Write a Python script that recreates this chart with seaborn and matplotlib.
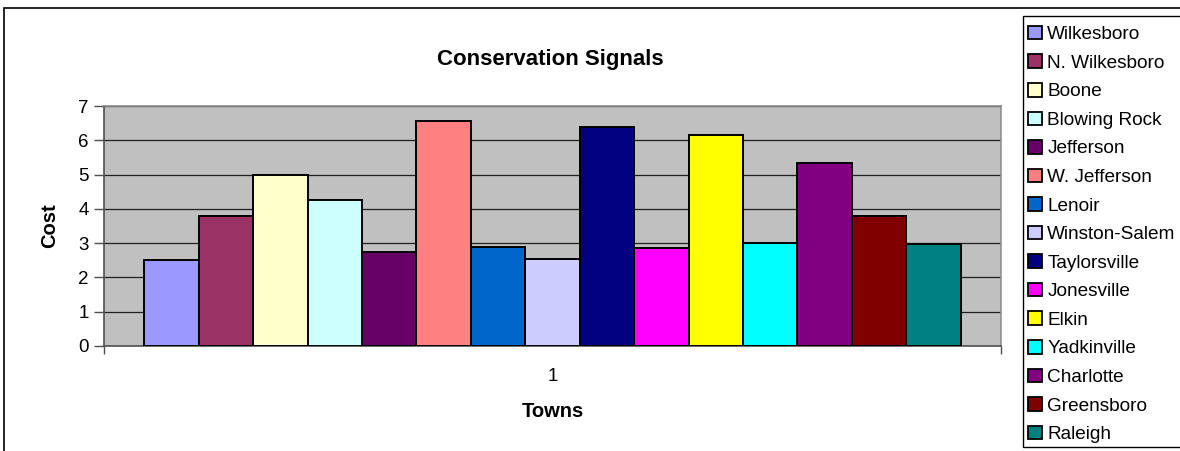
import matplotlib
matplotlib.use("Agg")
import matplotlib.pyplot as plt
from matplotlib.patches import Rectangle
import pandas as pd
import seaborn as sns

# data
towns = [
    "Wilkesboro", "N. Wilkesboro", "Boone", "Blowing Rock", "Jefferson",
    "W. Jefferson", "Lenoir", "Winston-Salem", "Taylorsville", "Jonesville",
    "Elkin", "Yadkinville", "Charlotte", "Greensboro", "Raleigh",
]
cost = [2.5, 3.8, 5.0, 4.25, 2.75, 6.55, 2.9, 2.55, 6.4, 2.85, 6.15, 3.0, 5.33, 3.8, 2.97]
colors = [
    "#9999FF", "#993366", "#FFFFCC", "#CCFFFF", "#660066",
    "#FF8080", "#0066CC", "#CCCCFF", "#000080", "#FF00FF",
    "#FFFF00", "#00FFFF", "#800080", "#800000", "#008080",
]
category = ["1"] * len(towns)

df = pd.DataFrame({"category": category, "town": towns, "cost": cost})

sns.set_style("white")
plt.rcParams["font.family"] = ["Liberation Sans", "DejaVu Sans"]
plt.rcParams["text.color"] = "black"
plt.rcParams["axes.labelcolor"] = "black"
plt.rcParams["xtick.labelcolor"] = "black"
plt.rcParams["ytick.labelcolor"] = "black"

W, H = 1180, 451
fig = plt.figure(figsize=(W / 100, H / 100), dpi=100)
ax = fig.add_axes([104 / W, 1 - 346 / H, (1001 - 104) / W, (346 - 106) / H])

sns.barplot(
    data=df, x="category", y="cost", hue="town", hue_order=towns,
    palette=colors, width=0.91, edgecolor="black", linewidth=1.4,
    saturation=1, errorbar=None, legend=False, ax=ax, zorder=3,
)

ax.set_facecolor("#C0C0C0")
ax.set_xlim(-0.5, 0.5)
ax.set_ylim(0, 7)
ax.set_yticks(range(0, 8))
ax.yaxis.grid(True, color="#202020", linewidth=0.9, zorder=1)
ax.xaxis.grid(False)
ax.set_axisbelow(True)

for side in ["top", "right"]:
    ax.spines[side].set_color("#909090")
    ax.spines[side].set_linewidth(1.2)
for side in ["left", "bottom"]:
    ax.spines[side].set_color("#505050")
    ax.spines[side].set_linewidth(1.2)

ax.tick_params(axis="y", direction="out", length=7, width=1, color="#505050",
               labelsize=13.5, pad=4, left=True)
ax.tick_params(axis="x", which="major", length=0, labelsize=13.5, pad=16)
ax.set_xticks([-0.5, 0.5], minor=True)
ax.tick_params(axis="x", which="minor", direction="out", length=6, width=1,
               color="#505050", bottom=True)

ax.set_xlabel("Towns", fontsize=14.5, fontweight="bold", labelpad=12)
ax.set_ylabel("Cost", fontsize=14.5, fontweight="bold", labelpad=14)
fig.text(550 / W, 1 - 59 / H, "Conservation Signals", ha="center", va="center",
         fontsize=16, fontweight="bold")

# outer chart border
fig.patches.append(Rectangle((4 / W, -0.05), 1.2, 1 - 8 / H + 0.05,
                             transform=fig.transFigure, fill=False,
                             edgecolor="black", linewidth=1.2))

# legend box + entries
fig.patches.append(Rectangle((1023 / W, 1 - 447 / H), 0.2, (447 - 16) / H,
                             transform=fig.transFigure, facecolor="white",
                             edgecolor="black", linewidth=1.0, zorder=2))
handles = [Rectangle((0, 0), 1, 1, facecolor=c, edgecolor="black", linewidth=1.3)
           for c in colors]
leg = fig.legend(handles, towns, loc="upper left",
                 bbox_to_anchor=(1024 / W, 1 - 22 / H), frameon=False,
                 fontsize=13.7, handlelength=0.72, handleheight=0.72,
                 handletextpad=0.3, labelspacing=0.585, borderaxespad=0,
                 borderpad=0.2)
leg.set_zorder(3)

fig.savefig("out.png", dpi=100)
